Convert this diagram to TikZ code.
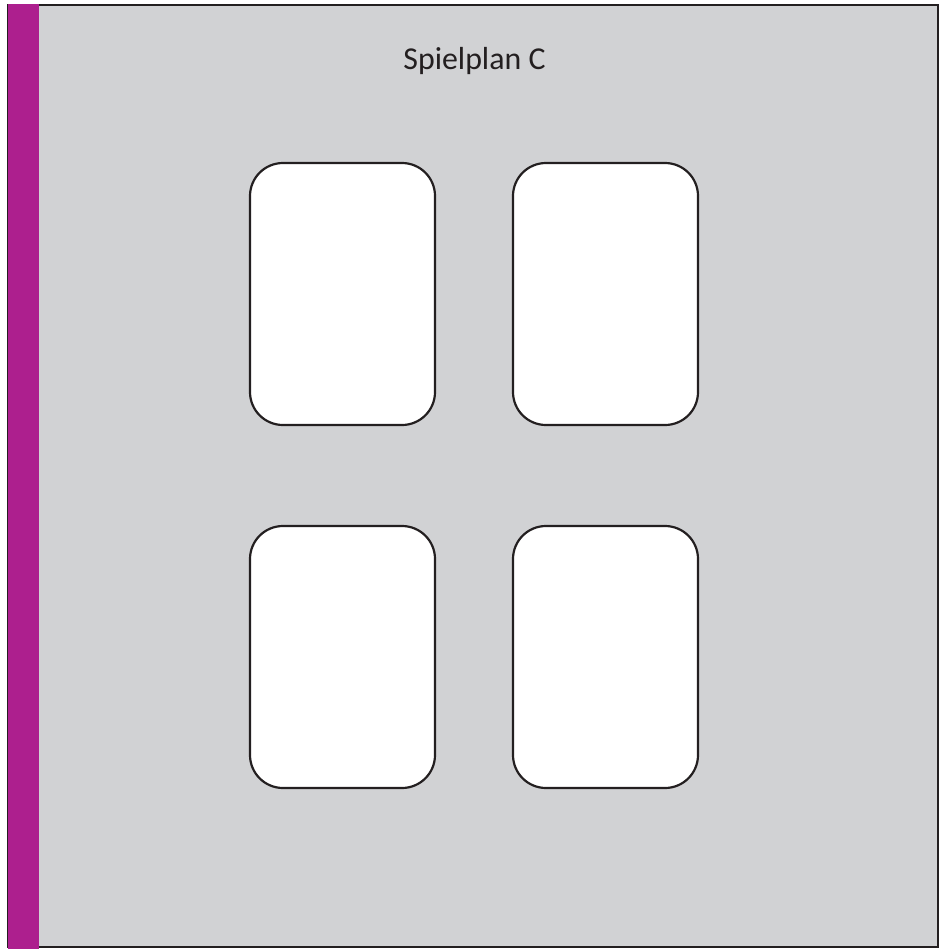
\documentclass[tikz,border=0pt]{standalone}
\usepackage{fontspec}
\setmainfont{Carlito}
\definecolor{boardgray}{HTML}{D1D2D4}
\definecolor{barmag}{HTML}{AD1F8E}
\definecolor{edge}{HTML}{231F20}
\begin{document}
\begin{tikzpicture}[x=1bp,y=-1bp,
  card/.style={draw=edge,line width=2.2bp,fill=white,rounded corners=33bp}]
\useasboundingbox (0,0) rectangle (944,949);
\fill[white] (0,0) rectangle (944,949);
\draw[edge,line width=2.5bp,fill=boardgray] (8,5) rectangle (938,947);
\fill[barmag] (8,4) rectangle (39,949);
\node[font=\fontsize{32}{36}\selectfont,text=edge] (title) at (474.5,61) {Spielplan C};
\draw[card] (250,163) rectangle (435,425);
\draw[card] (513,163) rectangle (698,425);
\draw[card] (250,526) rectangle (435,788);
\draw[card] (513,526) rectangle (698,788);
\end{tikzpicture}
\end{document}
